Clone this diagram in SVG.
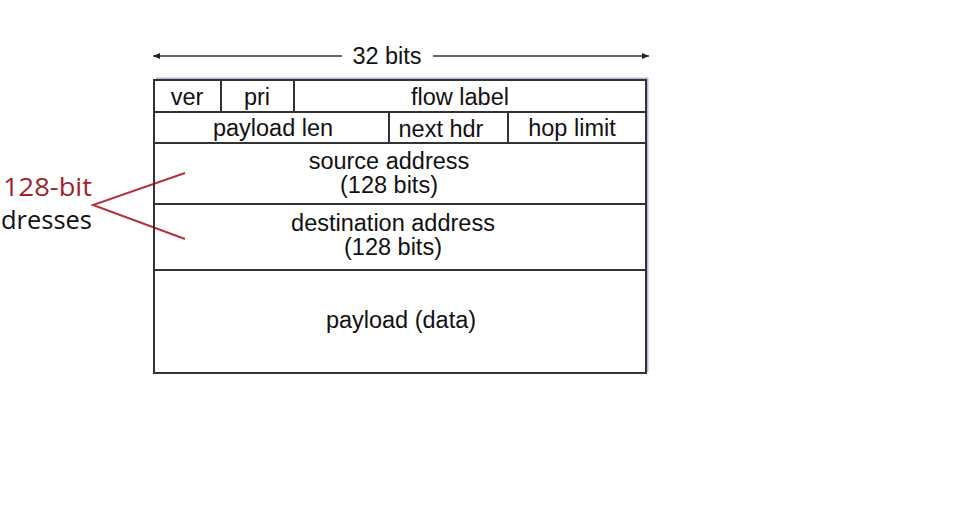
<svg xmlns="http://www.w3.org/2000/svg" width="953" height="521" viewBox="0 0 953 521">
<defs>
<marker id="ah" markerWidth="8" markerHeight="8" refX="7" refY="4" orient="auto" markerUnits="userSpaceOnUse">
<path d="M0,1 L7,4 L0,7 Z" fill="#222"/>
</marker>
<style>
.t{font-family:"Liberation Sans",Arial,sans-serif;font-size:23.5px;fill:#111;text-anchor:middle}
.ln{stroke:#333;stroke-width:2;fill:none}
.c{font-family:"Open Sans","Liberation Sans",sans-serif;font-size:26px}
</style>
</defs>
<rect width="953" height="521" fill="#fff"/>
<g id="shadow"><path d="M156,79 H647 V372" stroke="#8a86c8" stroke-width="3" fill="none" opacity="0.6"/></g>
<g id="connectors">
<line x1="342" y1="56" x2="153" y2="56" stroke="#333" stroke-width="1.5" marker-end="url(#ah)"/>
<line x1="433" y1="56" x2="649" y2="56" stroke="#333" stroke-width="1.5" marker-end="url(#ah)"/>
<polyline points="185,173 93,205 185,239" stroke="#b5323f" stroke-width="2" fill="none"/>
</g>
<g id="width-label"><text class="t" x="387" y="64">32 bits</text></g>
<g id="header">
<rect class="ln" x="154" y="80" width="492" height="293"/>
<line class="ln" x1="154" y1="112" x2="646" y2="112"/>
<line class="ln" x1="154" y1="143" x2="646" y2="143"/>
<line class="ln" x1="154" y1="204" x2="646" y2="204"/>
<line class="ln" x1="154" y1="270" x2="646" y2="270"/>
<line class="ln" x1="221" y1="80" x2="221" y2="112"/>
<line class="ln" x1="294" y1="80" x2="294" y2="112"/>
<line class="ln" x1="389" y1="112" x2="389" y2="143"/>
<line class="ln" x1="508" y1="112" x2="508" y2="143"/>
</g>
<g id="ver"><text class="t" x="187" y="105">ver</text></g>
<g id="pri"><text class="t" x="257" y="105">pri</text></g>
<g id="flow-label"><text class="t" x="460" y="105">flow label</text></g>
<g id="payload-len"><text class="t" x="273" y="136">payload len</text></g>
<g id="next-hdr"><text class="t" x="441" y="137">next hdr</text></g>
<g id="hop-limit"><text class="t" x="572" y="136">hop limit</text></g>
<g id="source-address"><text class="t" x="389" y="169">source address</text><text class="t" x="389" y="193">(128 bits)</text></g>
<g id="destination-address"><text class="t" x="393" y="231">destination address</text><text class="t" x="393" y="255">(128 bits)</text></g>
<g id="payload"><text class="t" x="401" y="328">payload (data)</text></g>
<g id="annotation">
<text class="c" x="3" y="196" fill="#a01f2a" textLength="89" lengthAdjust="spacingAndGlyphs">128-bit</text>
<text class="c" x="1" y="229" fill="#111" textLength="91" lengthAdjust="spacingAndGlyphs">dresses</text>
</g>
</svg>
